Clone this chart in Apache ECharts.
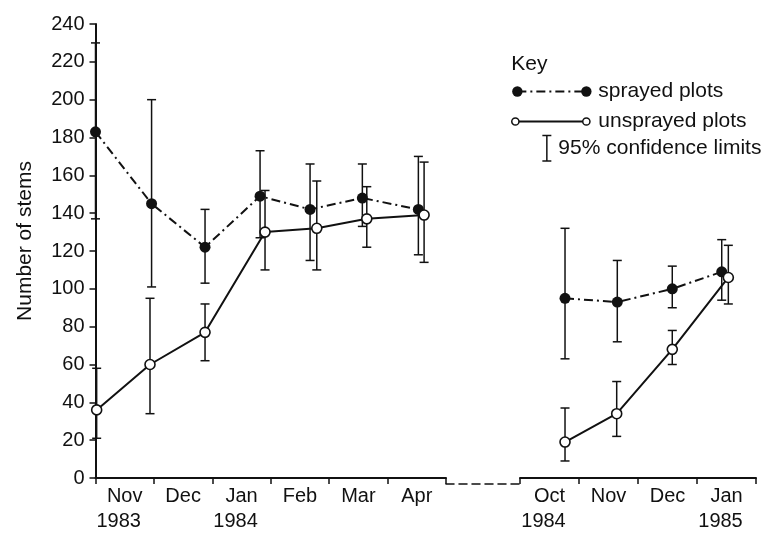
<!DOCTYPE html>
<html>
<head>
<meta charset="utf-8">
<script src="https://cdn.jsdelivr.net/npm/echarts@6.0.0/dist/echarts.min.js"></script>
<style>
  html, body { margin: 0; padding: 0; background: #ffffff; }
  #chart { width: 771px; height: 534px; }
</style>
</head>
<body>
<div id="chart"></div>
<script>
// ---------- tick labels ----------
const leftMonths  = ['Nov', 'Dec', 'Jan', 'Feb', 'Mar', 'Apr'];
const leftYears   = ['1983', '', '1984', '', '', ''];
const rightMonths = ['Oct', 'Nov', 'Dec', 'Jan'];
const rightYears  = ['1984', '', '', '1985'];
const yMin = 0, yMax = 240, yStep = 20;

// ---------- data: Nov 1983 - Apr 1984 (x = months since 1 Nov 1983) ----------
const sprayedX1    = [0.00, 0.96, 1.875, 2.817, 3.673, 4.568, 5.527];
const sprayedMean1 = [183, 145, 122, 149, 142, 148, 142];
const sprayedLow1  = [137, 101, 103, 127, 115, 133, 118];
const sprayedHigh1 = [230, 200, 142, 173, 166, 166, 170];

const unsprX1    = [0.02, 0.933, 1.875, 2.902, 3.788, 4.644, 5.625];
const unsprMean1 = [36, 60, 77, 130, 132, 137, 139];
const unsprLow1  = [21, 34, 62, 110, 110, 122, 114];
const unsprHigh1 = [58, 95, 92, 152, 157, 154, 167];

// ---------- data: Oct 1984 - Jan 1985 (x = months since 1 Oct 1984) ----------
const sprayedX2    = [0.763, 1.649, 2.581, 3.419];
const sprayedMean2 = [95, 93, 100, 109];
const sprayedLow2  = [63, 72, 90, 94];
const sprayedHigh2 = [132, 115, 112, 126];

const unsprX2    = [0.763, 1.639, 2.581, 3.531];
const unsprMean2 = [19, 34, 68, 106];
const unsprLow2  = [9, 22, 60, 92];
const unsprHigh2 = [37, 51, 78, 123];

// ---------- styling ----------
const FONT = 'Liberation Sans';
const INK = '#111111';

function pts(xs, ys) { return xs.map((x, i) => [x, ys[i]]); }
function bars(xs, lo, hi) { return xs.map((x, i) => [x, lo[i], hi[i]]); }

function renderErr(params, api) {
  const x = api.value(0), lo = api.value(1), hi = api.value(2);
  const a = api.coord([x, lo]);
  const b = api.coord([x, hi]);
  const w = 4.5;
  const style = { stroke: INK, lineWidth: 1.5, fill: null };
  return {
    type: 'group',
    children: [
      { type: 'line', shape: { x1: a[0], y1: a[1], x2: b[0], y2: b[1] }, style: style },
      { type: 'line', shape: { x1: a[0] - w, y1: a[1], x2: a[0] + w, y2: a[1] }, style: style },
      { type: 'line', shape: { x1: b[0] - w, y1: b[1], x2: b[0] + w, y2: b[1] }, style: style }
    ]
  };
}

function monthLabel(months, years) {
  return function (value, index) {
    const y = years[index];
    return y ? value + '\n{y|' + y + '}' : value;
  };
}

const catAxisCommon = {
  type: 'category',
  boundaryGap: true,
  axisLine: { show: true, lineStyle: { color: INK, width: 2 } },
  axisTick: { show: true, interval: 0, length: 6, lineStyle: { color: INK, width: 1.5 } },
  splitLine: { show: false },
  axisLabel: {
    interval: 0, margin: 6, color: INK, fontFamily: FONT, fontSize: 20, lineHeight: 25,
    rich: { y: { color: INK, fontFamily: FONT, fontSize: 20, lineHeight: 25, padding: [0, 12, 0, 0] } }
  }
};

const hiddenY = { type: 'value', min: yMin, max: yMax, interval: yStep, show: false };

const sprayedLine = {
  type: 'line',
  symbol: 'circle',
  symbolSize: 11,
  itemStyle: { color: INK },
  lineStyle: { color: INK, width: 2, type: [9, 4, 2, 4] },
  z: 3
};
const unsprLine = {
  type: 'line',
  symbol: 'circle',
  symbolSize: 10,
  itemStyle: { color: '#ffffff', borderColor: INK, borderWidth: 1.6 },
  lineStyle: { color: INK, width: 2 },
  z: 4
};

const chart = echarts.init(document.getElementById('chart'), null, { renderer: 'canvas' });

const option = {
  backgroundColor: '#ffffff',
  animation: false,
  grid: [
    { left: 95.5, right: 325, top: 24, bottom: 50 },
    { left: 446, right: 251, top: 24, bottom: 50 },
    { left: 520, right: 15, top: 24, bottom: 50 }
  ],
  xAxis: [
    Object.assign({}, catAxisCommon, {
      gridIndex: 0, data: leftMonths,
      axisLabel: Object.assign({}, catAxisCommon.axisLabel, { formatter: monthLabel(leftMonths, leftYears) })
    }),
    { type: 'value', gridIndex: 0, min: 0, max: leftMonths.length, show: false },
    {
      type: 'value', gridIndex: 1, min: 0, max: 1,
      axisLine: { show: true, lineStyle: { color: INK, width: 1.5, type: [8, 5] } },
      axisTick: { show: false }, axisLabel: { show: false }, splitLine: { show: false }
    },
    Object.assign({}, catAxisCommon, {
      gridIndex: 2, data: rightMonths,
      axisLabel: Object.assign({}, catAxisCommon.axisLabel, { formatter: monthLabel(rightMonths, rightYears) })
    }),
    { type: 'value', gridIndex: 2, min: 0, max: rightMonths.length, show: false }
  ],
  yAxis: [
    {
      type: 'value', gridIndex: 0, min: yMin, max: yMax, interval: yStep,
      name: 'Number of stems', nameLocation: 'middle', nameGap: 60, nameRotate: 90,
      nameTextStyle: { color: INK, fontFamily: FONT, fontSize: 21, padding: [0, 0, 0, 20] },
      axisLine: { show: true, lineStyle: { color: INK, width: 2 } },
      axisTick: { show: true, length: 6, lineStyle: { color: INK, width: 1.5 } },
      splitLine: { show: false },
      axisLabel: { color: INK, fontFamily: FONT, fontSize: 20, margin: 11 }
    },
    Object.assign({ gridIndex: 1 }, hiddenY),
    Object.assign({ gridIndex: 2 }, hiddenY)
  ],
  series: [
    {
      type: 'custom', name: 'sprayed CI 1', xAxisIndex: 1, yAxisIndex: 0, clip: false,
      renderItem: renderErr, encode: { x: 0, y: [1, 2] },
      data: bars(sprayedX1, sprayedLow1, sprayedHigh1), z: 2
    },
    {
      type: 'custom', name: 'unsprayed CI 1', xAxisIndex: 1, yAxisIndex: 0, clip: false,
      renderItem: renderErr, encode: { x: 0, y: [1, 2] },
      data: bars(unsprX1, unsprLow1, unsprHigh1), z: 2
    },
    Object.assign({}, sprayedLine, { name: 'sprayed plots', xAxisIndex: 1, yAxisIndex: 0, data: pts(sprayedX1, sprayedMean1) }),
    Object.assign({}, unsprLine, { name: 'unsprayed plots', xAxisIndex: 1, yAxisIndex: 0, data: pts(unsprX1, unsprMean1) }),
    {
      type: 'custom', name: 'sprayed CI 2', xAxisIndex: 4, yAxisIndex: 2, clip: false,
      renderItem: renderErr, encode: { x: 0, y: [1, 2] },
      data: bars(sprayedX2, sprayedLow2, sprayedHigh2), z: 2
    },
    {
      type: 'custom', name: 'unsprayed CI 2', xAxisIndex: 4, yAxisIndex: 2, clip: false,
      renderItem: renderErr, encode: { x: 0, y: [1, 2] },
      data: bars(unsprX2, unsprLow2, unsprHigh2), z: 2
    },
    Object.assign({}, sprayedLine, { name: 'sprayed plots 2', xAxisIndex: 4, yAxisIndex: 2, data: pts(sprayedX2, sprayedMean2) }),
    Object.assign({}, unsprLine, { name: 'unsprayed plots 2', xAxisIndex: 4, yAxisIndex: 2, data: pts(unsprX2, unsprMean2) })
  ],
  graphic: [
    {
      type: 'group', left: 511, top: 54,
      children: [
        { type: 'text', x: 0, y: 11, style: { text: 'Key', fill: INK, font: '21px "Liberation Sans"', textVerticalAlign: 'middle' } },
        // sprayed key
        { type: 'line', shape: { x1: 6, y1: 38, x2: 75, y2: 38 }, style: { stroke: INK, lineWidth: 2, lineDash: [9, 4, 2, 4] } },
        { type: 'circle', shape: { cx: 6, cy: 38, r: 5.2 }, style: { fill: INK } },
        { type: 'circle', shape: { cx: 75, cy: 38, r: 5.2 }, style: { fill: INK } },
        { type: 'text', x: 87, y: 38, style: { text: 'sprayed plots', fill: INK, font: '21px "Liberation Sans"', textVerticalAlign: 'middle' } },
        // unsprayed key
        { type: 'line', shape: { x1: 4, y1: 68, x2: 75, y2: 68 }, style: { stroke: INK, lineWidth: 2 } },
        { type: 'circle', shape: { cx: 4, cy: 68, r: 3.6 }, style: { fill: '#ffffff', stroke: INK, lineWidth: 1.5 } },
        { type: 'circle', shape: { cx: 75, cy: 68, r: 3.6 }, style: { fill: '#ffffff', stroke: INK, lineWidth: 1.5 } },
        { type: 'text', x: 87, y: 68, style: { text: 'unsprayed plots', fill: INK, font: '21px "Liberation Sans"', textVerticalAlign: 'middle' } },
        // CI key
        { type: 'line', shape: { x1: 35.5, y1: 82, x2: 35.5, y2: 107.5 }, style: { stroke: INK, lineWidth: 1.5 } },
        { type: 'line', shape: { x1: 31, y1: 82, x2: 40, y2: 82 }, style: { stroke: INK, lineWidth: 1.5 } },
        { type: 'line', shape: { x1: 31, y1: 107.5, x2: 40, y2: 107.5 }, style: { stroke: INK, lineWidth: 1.5 } },
        { type: 'text', x: 47, y: 95, style: { text: '95% confidence limits', fill: INK, font: '21px "Liberation Sans"', textVerticalAlign: 'middle' } }
      ]
    }
  ]
};

chart.setOption(option);
</script>
</body>
</html>
